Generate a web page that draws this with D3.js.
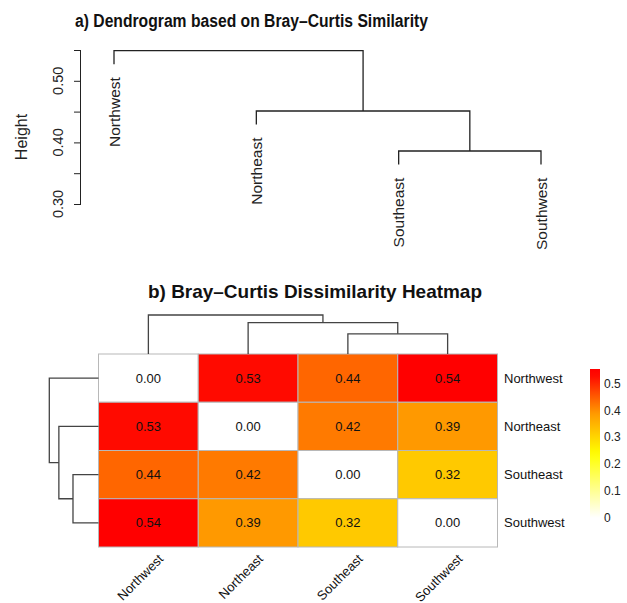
<!DOCTYPE html>
<html>
<head>
<meta charset="utf-8">
<script src="https://cdn.jsdelivr.net/npm/d3@7"></script>
<style>
  html, body { margin: 0; padding: 0; background: #ffffff; }
  svg { display: block; font-family: "Liberation Sans", Arial, Helvetica, sans-serif; }
</style>
</head>
<body>
<svg id="chart" width="627" height="603"></svg>
<script>
// ---------------- data ----------------
const regions = ["Northwest", "Northeast", "Southeast", "Southwest"];
const dissim = [
  [0.00, 0.53, 0.44, 0.54],
  [0.53, 0.00, 0.42, 0.39],
  [0.44, 0.42, 0.00, 0.32],
  [0.54, 0.39, 0.32, 0.00]
];
// hclust-style merge matrix (negative = leaf index+1, positive = earlier merge)
const merges = [[-3, -4], [-2, 1], [-1, 2]];
const heightsA = [0.386, 0.451, 0.549];   // panel a dendrogram heights
const hangA = 0.022;
const heightsB = [0.28, 0.435, 0.54];     // heatmap dendrogram heights
const yTicks = [0.30, 0.35, 0.40, 0.45, 0.50, 0.55];
const yTickLabels = [0.30, 0.40, 0.50];
const legendTicks = [0, 0.1, 0.2, 0.3, 0.4, 0.5];
const colorStops = [0, 0.24, 0.39, 0.54];
const colorValues = ["#FFFFFF", "#FFFF00", "#FF9900", "#FF0000"];
const titleA = "a) Dendrogram based on Bray\u2013Curtis Similarity";
const titleB = "b) Bray\u2013Curtis Dissimilarity Heatmap";

// ---------------- setup ----------------
const svg = d3.select("#chart");
const color = d3.scaleLinear().domain(colorStops).range(colorValues).clamp(true);

// compute dendrogram node positions
function layoutTree(leafPos, heights, hang) {
  const nodes = [];
  function child(c) {
    if (c < 0) return { pos: leafPos(regions[-c - 1]), h: null };
    return nodes[c - 1];
  }
  merges.forEach((m, i) => {
    const a = child(m[0]), b = child(m[1]);
    const h = heights[i];
    const ha = a.h === null ? h - hang : a.h;
    const hb = b.h === null ? h - hang : b.h;
    nodes.push({ pos: (a.pos + b.pos) / 2, h: h, kids: [{ pos: a.pos, h: ha }, { pos: b.pos, h: hb }] });
  });
  return nodes;
}

// ---------------- panel a ----------------
svg.append("text").attr("x", 251.5).attr("y", 27).attr("text-anchor", "middle")
  .attr("font-size", 18).attr("font-weight", "bold").attr("fill", "#111")
  .attr("textLength", 353).attr("lengthAdjust", "spacingAndGlyphs").text(titleA);

const xA = d3.scalePoint().domain(regions).range([114, 541]);
const yA = d3.scaleLinear().domain([0.30, 0.55]).range([204, 50]);

const axisA = svg.append("g").attr("transform", "translate(81,0)")
  .call(d3.axisLeft(yA).tickValues(yTicks).tickSize(7).tickFormat(""));
axisA.select(".domain").attr("d", `M-0.5,${yA(0.30)}V${yA(0.55)}`).attr("stroke", "#222");
axisA.selectAll(".tick line").attr("stroke", "#222");
yTickLabels.forEach(v => {
  svg.append("text")
    .attr("transform", `translate(63,${yA(v)}) rotate(-90)`)
    .attr("text-anchor", "middle").attr("font-size", 14.5).attr("fill", "#222")
    .text(d3.format(".2f")(v));
});
svg.append("text").attr("transform", "translate(27,137) rotate(-90)")
  .attr("text-anchor", "middle").attr("font-size", 16).attr("fill", "#222").text("Height");

const treeA = layoutTree(r => xA(r), heightsA, hangA);
const gA = svg.append("g").attr("fill", "none").attr("stroke", "#222").attr("stroke-width", 1.3);
treeA.forEach(n => {
  const [k1, k2] = n.kids;
  gA.append("path").attr("d",
    `M${k1.pos},${yA(k1.h)}V${yA(n.h)}H${k2.pos}V${yA(k2.h)}`);
});
// leaf labels
regions.forEach((r, i) => {
  let bottom = null;
  treeA.forEach(n => n.kids.forEach(k => { if (Math.abs(k.pos - xA(r)) < 0.01 && k.h < n.h && (bottom === null || k.h < bottom)) bottom = k.h; }));
  svg.append("text")
    .attr("transform", `translate(${xA(r) + 5.5},${yA(bottom) + 13}) rotate(-90)`)
    .attr("text-anchor", "end").attr("font-size", 15.5).attr("fill", "#222").text(r);
});

// ---------------- panel b ----------------
svg.append("text").attr("x", 315).attr("y", 298).attr("text-anchor", "middle")
  .attr("font-size", 18.5).attr("font-weight", "bold").attr("fill", "#111")
  .attr("textLength", 334).attr("lengthAdjust", "spacingAndGlyphs").text(titleB);

const xB = d3.scaleBand().domain(regions).range([98.5, 497.5]);
const yB = d3.scaleBand().domain(regions).range([354, 547]);

const cells = [];
regions.forEach((rr, i) => regions.forEach((cc, j) => cells.push({ row: rr, col: cc, v: dissim[i][j] })));

svg.append("g").selectAll("rect").data(cells).join("rect")
  .attr("x", d => xB(d.col)).attr("y", d => yB(d.row))
  .attr("width", xB.bandwidth()).attr("height", yB.bandwidth())
  .attr("fill", d => color(d.v)).attr("stroke", "#b8b8b8").attr("stroke-width", 1);

svg.append("g").selectAll("text").data(cells).join("text")
  .attr("x", d => xB(d.col) + xB.bandwidth() / 2)
  .attr("y", d => yB(d.row) + yB.bandwidth() / 2)
  .attr("text-anchor", "middle").attr("dominant-baseline", "central")
  .attr("font-size", 13).attr("fill", "#111").text(d => d3.format(".2f")(d.v));

// row labels
svg.append("g").selectAll("text").data(regions).join("text")
  .attr("x", 504).attr("y", d => yB(d) + yB.bandwidth() / 2)
  .attr("dominant-baseline", "central").attr("font-size", 13).attr("fill", "#111").text(d => d);

// column labels (45°)
svg.append("g").selectAll("text").data(regions).join("text")
  .attr("transform", d => `translate(${xB(d) + xB.bandwidth() / 2 + 9},553) rotate(-45)`)
  .attr("text-anchor", "end").attr("dominant-baseline", "hanging")
  .attr("font-size", 13).attr("fill", "#111").text(d => d);

// row dendrogram (left)
const hRow = d3.scaleLinear().domain([0, 0.54]).range([98.5, 49.3]);
const treeR = layoutTree(r => yB(r) + yB.bandwidth() / 2, heightsB, 0);
const gR = svg.append("g").attr("fill", "none").attr("stroke", "#444").attr("stroke-width", 1.3);
treeR.forEach(n => {
  const [k1, k2] = n.kids;
  const h1 = k1.h === n.h ? 0 : k1.h, h2 = k2.h === n.h ? 0 : k2.h;
  gR.append("path").attr("d", `M${hRow(h1)},${k1.pos}H${hRow(n.h)}V${k2.pos}H${hRow(h2)}`);
});

// column dendrogram (top)
const hCol = d3.scaleLinear().domain([0, 0.54]).range([354, 315]);
const treeC = layoutTree(r => xB(r) + xB.bandwidth() / 2, heightsB, 0);
const gC = svg.append("g").attr("fill", "none").attr("stroke", "#444").attr("stroke-width", 1.3);
treeC.forEach(n => {
  const [k1, k2] = n.kids;
  const h1 = k1.h === n.h ? 0 : k1.h, h2 = k2.h === n.h ? 0 : k2.h;
  gC.append("path").attr("d", `M${k1.pos},${hCol(h1)}V${hCol(n.h)}H${k2.pos}V${hCol(h2)}`);
});

// legend
const legScale = d3.scaleLinear().domain([0, 0.555]).range([518, 369]);
const defs = svg.append("defs");
const grad = defs.append("linearGradient").attr("id", "leggrad")
  .attr("x1", 0).attr("y1", 1).attr("x2", 0).attr("y2", 0);
d3.range(0, 1.0001, 0.05).forEach(t => {
  grad.append("stop").attr("offset", t).attr("stop-color", color(t * 0.555));
});
svg.append("rect").attr("x", 590).attr("y", legScale(0.555)).attr("width", 10)
  .attr("height", legScale(0) - legScale(0.555)).attr("fill", "url(#leggrad)");
svg.append("g").selectAll("text").data(legendTicks).join("text")
  .attr("x", 604).attr("y", d => legScale(d)).attr("dominant-baseline", "central")
  .attr("font-size", 12).attr("fill", "#222").text(d => d === 0 ? "0" : d3.format(".1f")(d));
</script>
</body>
</html>
